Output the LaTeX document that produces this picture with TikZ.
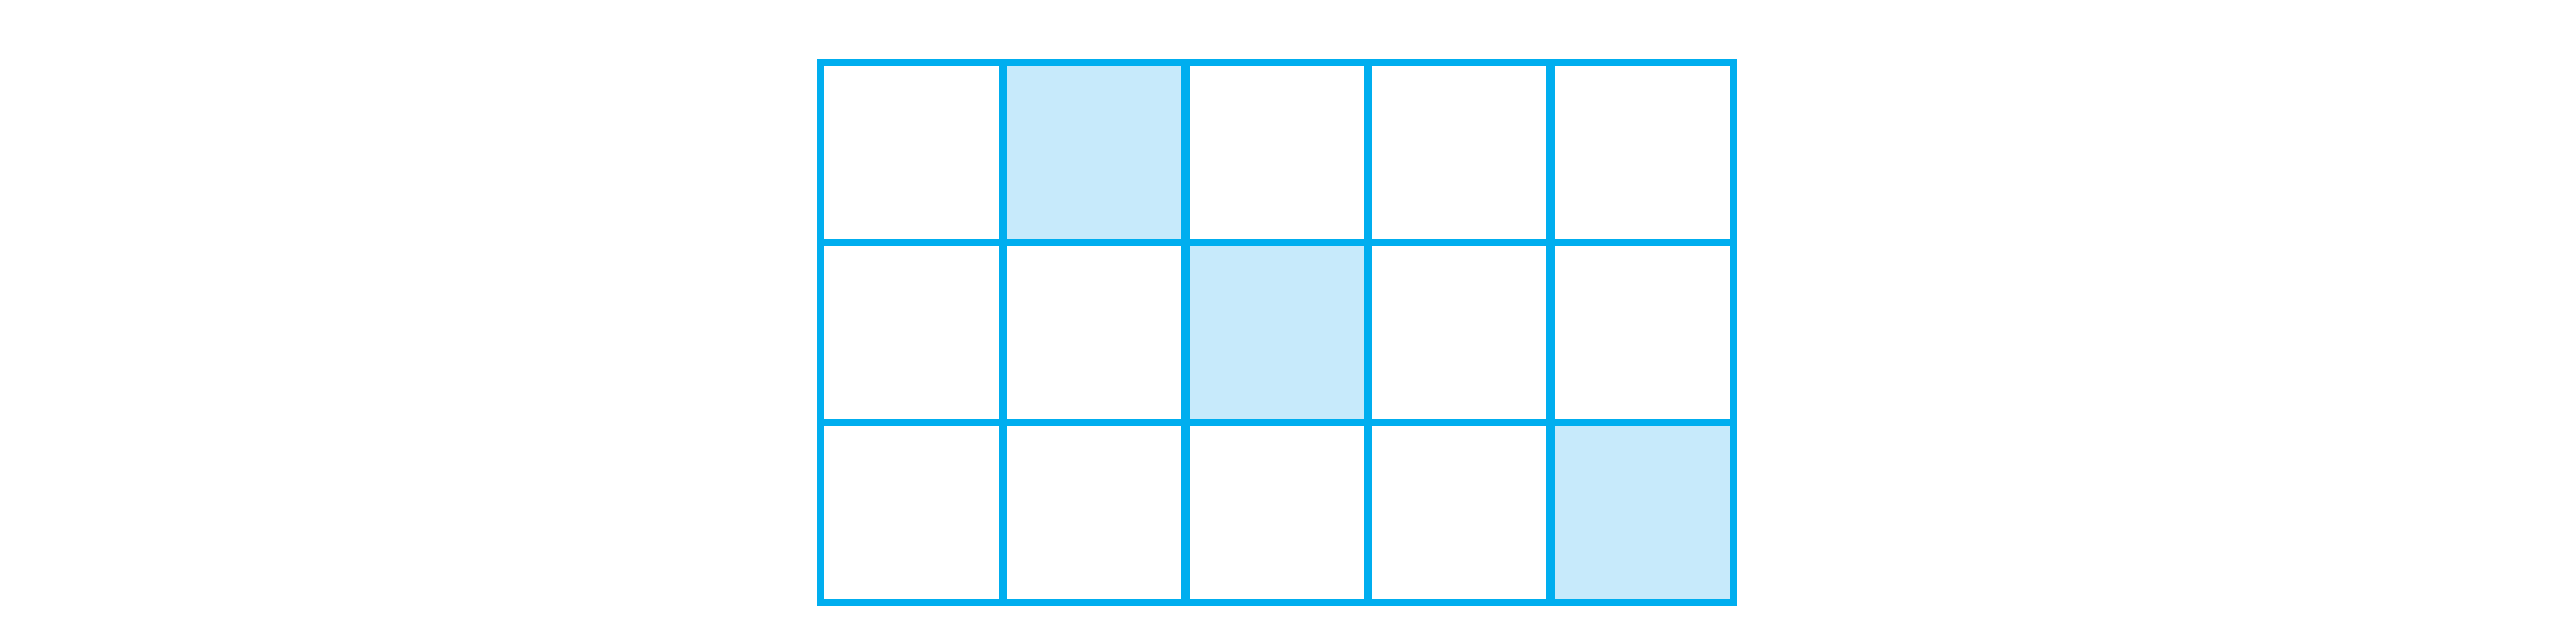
\documentclass[tikz,border=0pt]{standalone}
\definecolor{gridline}{HTML}{00AEEF}
\definecolor{cellfill}{HTML}{C7EAFB}
\tikzset{
  gridstroke/.style={draw=gridline, line width=7pt},
  vstroke/.style={draw=gridline, line width=8.5pt},
  shaded/.style={fill=cellfill}
}
\begin{document}
\begin{tikzpicture}[x=1pt,y=-1pt]
\useasboundingbox (0,0) rectangle (2554,633);
% shaded cells
\fill[shaded] (1003,62.7) rectangle (1185.5,242.5);
\fill[shaded] (1185.5,242.5) rectangle (1368,422.3);
\fill[shaded] (1550.5,422.3) rectangle (1733,602);
% interior horizontal lines
\foreach \y in {242.5,422.3} \draw[gridstroke] (820.5,\y) -- (1733,\y);
% interior vertical lines
\foreach \x in {1003,1185.5,1368,1550.5} \draw[vstroke] (\x,62.7) -- (\x,602);
% outer frame
\draw[gridstroke] (820.5,62.7) rectangle (1733,602);
\end{tikzpicture}
\end{document}
